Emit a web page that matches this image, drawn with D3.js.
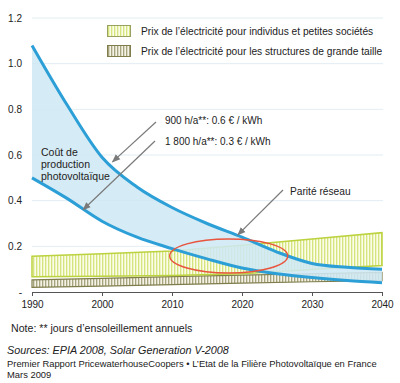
<!DOCTYPE html>
<html>
<head>
<meta charset="utf-8">
<script src="https://cdn.jsdelivr.net/npm/d3@7/dist/d3.min.js"></script>
<style>
  body { margin: 0; background: #fff; }
  svg text { font-family: "Liberation Sans", Arial, sans-serif; fill: #222; }
</style>
</head>
<body>
<div id="chart"></div>
<script>
// ---------------------------------------------------------------------------
// Data (€ / kWh)
// ---------------------------------------------------------------------------
const years = [1990, 1995, 2000, 2005, 2010, 2015, 2020, 2025, 2030, 2035, 2040];
const cost900 = [1.08, 0.82, 0.59, 0.46, 0.37, 0.30, 0.24, 0.175, 0.125, 0.108, 0.10];
const cost1800 = [0.50, 0.41, 0.31, 0.24, 0.19, 0.145, 0.105, 0.08, 0.063, 0.05, 0.04];

const bandYears = [1990, 2000, 2010, 2020, 2030, 2040];
const smallTop = [0.157, 0.168, 0.18, 0.205, 0.232, 0.26];
const smallBottom = [0.067, 0.069, 0.072, 0.08, 0.098, 0.116];
const largeTop = [0.053, 0.060, 0.067, 0.074, 0.08, 0.086];
const largeBottom = [0.02, 0.026, 0.032, 0.039, 0.045, 0.05];

const yTicks = [0, 0.2, 0.4, 0.6, 0.8, 1.0, 1.2];
const xTicks = [1990, 2000, 2010, 2020, 2030, 2040];

const legendLabels = [
  "Prix de l\u2019électricité pour individus et petites sociétés",
  "Prix de l\u2019électricité pour les structures de grande taille"
];

// ---------------------------------------------------------------------------
// Canvas
// ---------------------------------------------------------------------------
const width = 400, height = 383;
const svg = d3.select("#chart").append("svg")
  .attr("width", width)
  .attr("height", height);

const x = d3.scaleLinear().domain([1990, 2040]).range([32, 382]);
const y = d3.scaleLinear().domain([0, 1.2]).range([292, 18]);

// hatch patterns
const defs = svg.append("defs");
function hatch(id, bg, stroke) {
  const p = defs.append("pattern")
    .attr("id", id)
    .attr("patternUnits", "userSpaceOnUse")
    .attr("width", 3).attr("height", 3);
  p.append("rect").attr("width", 3).attr("height", 3).attr("fill", bg);
  p.append("line").attr("x1", 0.75).attr("x2", 0.75).attr("y1", 0).attr("y2", 3)
    .attr("stroke", stroke).attr("stroke-width", 1);
}
hatch("hatchSmall", "#fbfde8", "#c9dc5a");
hatch("hatchLarge", "#f4f3e6", "#8c8a5c");

defs.append("marker")
  .attr("id", "arrow")
  .attr("viewBox", "0 0 10 10")
  .attr("refX", 9).attr("refY", 5)
  .attr("markerWidth", 7).attr("markerHeight", 7)
  .attr("orient", "auto")
  .append("path")
  .attr("d", "M0,1 L10,5 L0,9 Z")
  .attr("fill", "#7a7a7a");

// grid lines
svg.append("g").selectAll("line")
  .data(yTicks.filter(d => d > 0))
  .join("line")
  .attr("x1", x(1990)).attr("x2", x(2040) + 1)
  .attr("y1", d => y(d)).attr("y2", d => y(d))
  .attr("stroke", "#e2edf2").attr("stroke-width", 1);

// y tick labels
svg.append("g").selectAll("text")
  .data(yTicks)
  .join("text")
  .attr("x", 22)
  .attr("y", d => y(d) + 3.5)
  .attr("text-anchor", "end")
  .attr("font-size", 10)
  .text(d => d === 0 ? "-" : d.toFixed(1));

// x axis
const xAxis = d3.axisBottom(x).tickValues(xTicks).tickFormat(d3.format("d")).tickSize(4);
const gx = svg.append("g")
  .attr("transform", "translate(0," + y(0) + ")")
  .call(xAxis);
gx.select(".domain").attr("stroke", "#555");
gx.selectAll(".tick line").attr("stroke", "#555");
gx.selectAll(".tick text")
  .attr("font-size", 10)
  .attr("font-family", "Liberation Sans, Arial, sans-serif")
  .attr("fill", "#222")
  .attr("dy", "0.9em");

// ---------------------------------------------------------------------------
// Price bands
// ---------------------------------------------------------------------------
const bandArea = (top, bottom) => d3.area()
  .x((d, i) => x(bandYears[i]))
  .y0((d, i) => y(bottom[i]))
  .y1((d, i) => y(top[i]))(bandYears);

svg.append("path")
  .attr("d", bandArea(largeTop, largeBottom))
  .attr("fill", "url(#hatchLarge)")
  .attr("stroke", "#7f7d4c").attr("stroke-width", 1.2);

svg.append("path")
  .attr("d", bandArea(smallTop, smallBottom))
  .attr("fill", "url(#hatchSmall)")
  .attr("stroke", "#bcd23e").attr("stroke-width", 1.5);

// ---------------------------------------------------------------------------
// Photovoltaic cost range
// ---------------------------------------------------------------------------
const costArea = d3.area()
  .curve(d3.curveMonotoneX)
  .x((d, i) => x(years[i]))
  .y0((d, i) => y(cost1800[i]))
  .y1((d, i) => y(cost900[i]));

svg.append("path")
  .attr("d", costArea(years))
  .attr("fill", "#cfe8f4")
  .attr("fill-opacity", 0.88);

const costLine = vals => d3.line()
  .curve(d3.curveMonotoneX)
  .x((d, i) => x(years[i]))
  .y((d, i) => y(vals[i]))(years);

[cost900, cost1800].forEach(vals => {
  svg.append("path")
    .attr("d", costLine(vals))
    .attr("fill", "none")
    .attr("stroke", "#2c9fd7")
    .attr("stroke-width", 3);
});

// grid parity ellipse
svg.append("ellipse")
  .attr("cx", x(2018.1)).attr("cy", y(0.158))
  .attr("rx", 59).attr("ry", 17)
  .attr("fill", "none")
  .attr("stroke", "#e8553e").attr("stroke-width", 1.5);

// ---------------------------------------------------------------------------
// Annotations
// ---------------------------------------------------------------------------
function arrow(x1, y1, x2, y2) {
  svg.append("line")
    .attr("x1", x1).attr("y1", y1).attr("x2", x2).attr("y2", y2)
    .attr("stroke", "#7a7a7a").attr("stroke-width", 1.2)
    .attr("marker-end", "url(#arrow)");
}
arrow(156, 122, x(2001.5), y(0.57));
arrow(155, 141, x(1997.3), y(0.36));
arrow(283, 190, x(2019.4), y(0.25));

function label(tx, ty, txt, size, opts) {
  const t = svg.append("text")
    .attr("x", tx).attr("y", ty)
    .attr("font-size", size)
    .text(txt);
  if (opts && opts.italic) t.attr("font-style", "italic");
  return t;
}

label(165, 124, "900 h/a**: 0.6 \u20ac / kWh", 10);
label(165, 145, "1 800 h/a**: 0.3 \u20ac / kWh", 10);
label(41, 156, "Coût de", 10.5);
label(41, 168, "production", 10.5);
label(41, 180, "photovoltaïque", 10.5);
label(290, 195, "Parité réseau", 10.2);

// legend
const legend = svg.append("g");
legendLabels.forEach((txt, i) => {
  legend.append("rect")
    .attr("x", 107.5).attr("y", 25.5 + i * 20)
    .attr("width", 23).attr("height", 11)
    .attr("fill", i === 0 ? "url(#hatchSmall)" : "url(#hatchLarge)")
    .attr("stroke", i === 0 ? "#9aa060" : "#7f7d4c");
  legend.append("text")
    .attr("x", 141).attr("y", 35 + i * 20)
    .attr("font-size", 10.2)
    .text(txt);
});

// notes and sources
label(11, 332, "Note: ** jours d\u2019ensoleillement annuels", 10.6);
label(7, 354, "Sources: EPIA 2008, Solar Generation V-2008", 10.8, { italic: true });
label(7, 367, "Premier Rapport PricewaterhouseCoopers \u2022 L\u2019Etat de la Filière Photovoltaïque en France", 9.4);
label(7, 378, "Mars 2009", 9.4);
</script>
</body>
</html>
